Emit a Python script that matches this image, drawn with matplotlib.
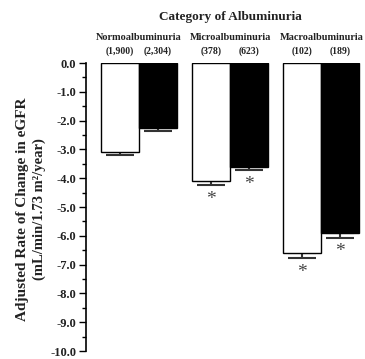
import matplotlib
matplotlib.use("Agg")
import matplotlib.pyplot as plt
import numpy as np

groups = ["Normoalbuminuria", "Microalbuminuria", "Macroalbuminuria"]
counts_white = ["(1,900)", "(378)", "(102)"]
counts_black = ["(2,304)", "(623)", "(189)"]
values_white = [-3.1, -4.1, -6.6]
values_black = [-2.27, -3.6, -5.92]
err_white = [0.08, 0.15, 0.17]
err_black = [0.08, 0.12, 0.14]
star_white = [False, True, True]
star_black = [False, True, True]
yticks = np.arange(0, -10.5, -1.0)

plt.rcParams['font.family'] = ['Liberation Serif', 'DejaVu Serif']
plt.rcParams['font.weight'] = 'bold'

fig = plt.figure(figsize=(3.65, 3.59), dpi=100)
ax = fig.add_axes([86/365, 1-351/359, 276/365, (351-63)/359])

centers = np.arange(3) * 2.4 + 0.5
xw = centers - 0.5
xb = centers + 0.5
ax.bar(xw, values_white, width=1.0, color='white', edgecolor='black', linewidth=1.0, zorder=2)
ax.bar(xb, values_black, width=1.0, color='black', edgecolor='black', linewidth=1.0, zorder=2)
ax.errorbar(xw, values_white, yerr=[err_white, [0]*3], fmt='none', ecolor='#333333',
            elinewidth=1.5, capsize=10, capthick=1.5, zorder=1)
ax.errorbar(xb, values_black, yerr=[err_black, [0]*3], fmt='none', ecolor='#333333',
            elinewidth=1.5, capsize=10, capthick=1.5, zorder=1)

for x, v, e, s in zip(xw, values_white, err_white, star_white):
    if s:
        ax.text(x, v - e - 0.2, "*", ha='center', va='top', fontsize=14, fontweight='normal', color='#444444')
for x, v, e, s in zip(xb, values_black, err_black, star_black):
    if s:
        ax.text(x, v - e - 0.2, "*", ha='center', va='top', fontsize=14, fontweight='normal', color='#444444')

ax.set_xlim(-0.895, 6.37)
ax.set_ylim(-10, 0)
ax.set_yticks(yticks)
ax.set_yticklabels([f"{t:.1f}" for t in yticks], fontsize=9, fontweight='bold', color='#222222')
ax.set_yticks(np.arange(-0.5, -10, -1.0), minor=True)
ax.tick_params(axis='y', which='major', direction='out', length=5, width=1, pad=2)
ax.tick_params(axis='y', which='minor', direction='out', length=3, width=1)
ax.set_xticks([])
for sp in ['top', 'right', 'bottom']:
    ax.spines[sp].set_visible(False)
ax.spines['left'].set_linewidth(1.2)

# Header texts
for c, g in zip(centers, groups):
    fig.text(ax.transData.transform((c, 0))[0] / 365, 1-38/359, g, ha='center', va='center',
             fontsize=7.4, fontweight='bold', color='#222222')
for x, n in zip(list(xw) + list(xb), counts_white + counts_black):
    fig.text(ax.transData.transform((x, 0))[0] / 365, 1-51/359, n, ha='center', va='center',
             fontsize=7, fontweight='bold', color='#222222')
fig.text(230/365, 1-17/359, "Category of Albuminuria", ha='center', va='center',
         fontsize=9.5, fontweight='bold', color='#222222')

fig.text(23/365, 1-209/359, "Adjusted Rate of Change in eGFR", rotation=90,
         ha='center', va='center', fontsize=11, fontweight='bold', color='#222222')
fig.text(39/365, 1-209/359, "(mL/min/1.73 m²/year)", rotation=90,
         ha='center', va='center', fontsize=10.5, fontweight='bold', color='#222222')

fig.savefig("out.png", dpi=100)
